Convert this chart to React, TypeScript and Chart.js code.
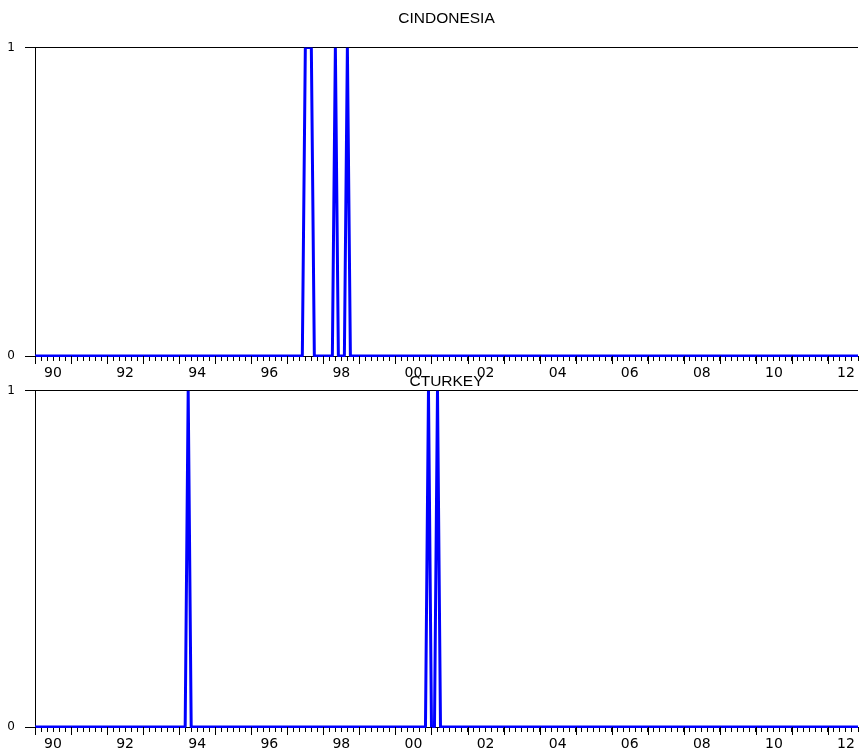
import React, { useEffect, useRef } from "react";
import { Chart, registerables } from "chart.js";

Chart.register(...registerables);

// Monthly sample 1990M01 .. 2012M11
const START_YEAR = 1990;
const MONTH_COUNT = 275;
const months: string[] = [];
for (let i = 0; i < MONTH_COUNT; i++) {
  const y = START_YEAR + Math.floor(i / 12);
  const m = (i % 12) + 1;
  months.push(`${y}M${m < 10 ? "0" + m : m}`);
}

// Crisis months (dummy = 1), all other months are 0
const indonesiaCrisisMonths = ["1997M07", "1997M08", "1997M09", "1998M05", "1998M09"];
const turkeyCrisisMonths = ["1994M04", "2000M12", "2001M03"];

// Year tick labels (every second year)
const tickYears = ["90", "92", "94", "96", "98", "00", "02", "04", "06", "08", "10", "12"];
const yTickLabels = ["0", "1"];

const cindonesia = months.map((m) => (indonesiaCrisisMonths.includes(m) ? 1 : 0));
const cturkey = months.map((m) => (turkeyCrisisMonths.includes(m) ? 1 : 0));

const yearTickPlugin = {
  id: "yearTicks",
  afterDraw(chart: any) {
    const xs = chart.scales.x;
    const ctx = chart.ctx;
    const b = chart.chartArea.bottom;
    ctx.save();
    ctx.strokeStyle = "#000";
    ctx.lineWidth = 1;
    for (let v = 0; v <= xs.max; v += 12) {
      const px = Math.round(xs.getPixelForValue(v)) + 0.5;
      ctx.beginPath();
      ctx.moveTo(px, b);
      ctx.lineTo(px, b + 8);
      ctx.stroke();
    }
    ctx.restore();
  },
};

type PanelProps = {
  title: string;
  values: number[];
  top: number;
  height: number;
  axisHeight: number;
  titlePad: { top: number; bottom: number };
};

function Panel({ title, values, top, height, axisHeight, titlePad }: PanelProps) {
  const ref = useRef<HTMLCanvasElement>(null);
  useEffect(() => {
    const chart = new Chart(ref.current as HTMLCanvasElement, {
      type: "line",
      data: {
        datasets: [
          {
            data: values.map((v, i) => ({ x: i, y: v })),
            borderColor: "#0000ff",
            borderWidth: 3,
            pointRadius: 0,
            tension: 0,
            borderJoinStyle: "bevel",
            clip: { left: 2, right: 2, top: 0, bottom: 1 },
          } as any,
        ],
      },
      options: {
        animation: false,
        responsive: false,
        events: [],
        layout: { padding: { left: 0, right: 3, top: 0, bottom: 0 } },
        plugins: {
          legend: { display: false },
          tooltip: { enabled: false },
          title: {
            display: true,
            text: title,
            fullSize: false,
            color: "#000",
            font: { family: "Liberation Sans", size: 15.5, weight: "normal", lineHeight: 1.2 },
            padding: titlePad,
          },
        },
        scales: {
          x: {
            type: "linear",
            min: 0,
            max: MONTH_COUNT - 1,
            border: { color: "#000", width: 1 },
            grid: { drawOnChartArea: false, drawTicks: true, tickLength: 5, tickColor: "#000" },
            ticks: {
              stepSize: 2,
              autoSkip: false,
              maxRotation: 0,
              minRotation: 0,
              padding: 4,
              color: "#000",
              font: { family: "DejaVu Sans", size: 14 },
              callback: (v: any) => {
                const n = Number(v);
                if ((n - 6) % 24 === 0) {
                  const k = (n - 6) / 24;
                  return tickYears[k] ?? "";
                }
                return "";
              },
            },
            afterFit: (s: any) => {
              s.height = axisHeight;
            },
          },
          y: {
            min: 0,
            max: 1,
            border: { color: "#000", width: 1 },
            grid: {
              color: (c: any) => (c.tick && c.tick.value === 1 ? "#000" : "rgba(0,0,0,0)"),
              tickColor: "#000",
              tickLength: 10,
            },
            ticks: {
              stepSize: 1,
              padding: 10,
              color: "#000",
              font: { family: "DejaVu Sans", size: 12 },
              callback: (v: any) => yTickLabels[Number(v)] ?? "",
            },
            afterFit: (s: any) => {
              s.width = 35;
            },
          },
        },
      } as any,
      plugins: [yearTickPlugin],
    });
    return () => chart.destroy();
  }, []);
  return (
    <canvas
      ref={ref}
      width={862}
      height={height}
      style={{ position: "absolute", left: 0, top, width: 862, height }}
    />
  );
}

export default function App() {
  return (
    <div style={{ position: "fixed", left: 0, top: 0, width: 862, height: 753, background: "#fff" }}>
      <Panel
        title="CINDONESIA"
        values={cindonesia}
        top={0}
        height={380}
        axisHeight={24}
        titlePad={{ top: 9, bottom: 20 }}
      />
      <Panel
        title="CTURKEY"
        values={cturkey}
        top={372}
        height={381}
        axisHeight={26}
        titlePad={{ top: 0, bottom: 0 }}
      />
    </div>
  );
}
